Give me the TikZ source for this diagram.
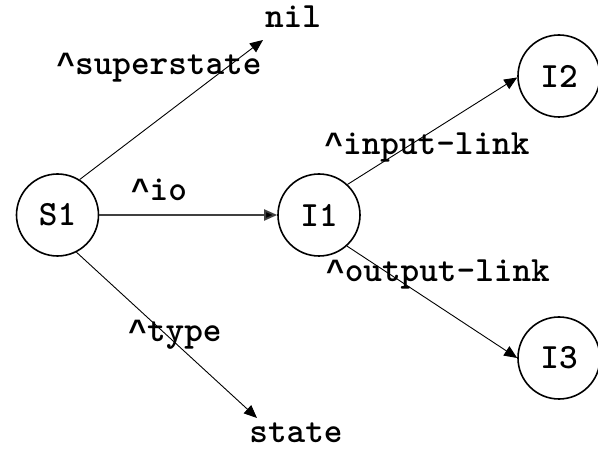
\documentclass[tikz,border=0pt]{standalone}
\usepackage{fontspec}
\newfontfamily\caretfont{Liberation Mono}
\newcommand{\crt}{{\fontsize{31}{31}\caretfont\bfseries\textasciicircum}}
\usetikzlibrary{arrows.meta}
\tikzset{
  state/.style={circle, draw=black, line width=1.6pt, minimum size=82pt, inner sep=0pt, font=\fontsize{35.5}{35.5}\selectfont\ttfamily\bfseries},
  lbl/.style={anchor=base, inner sep=0pt, font=\fontsize{35.5}{35.5}\selectfont\ttfamily\bfseries},
  conn/.style={draw=black, line width=0.9pt, -{Triangle[length=13pt,width=11pt]}},
  thick conn/.style={draw=black!75, line width=1.8pt, -{Triangle[length=13pt,width=11pt,fill=black]}}
}
\begin{document}
\begin{tikzpicture}[x=1pt,y=-1pt]
\useasboundingbox (0,0) rectangle (598,449);
\node[state] (S1) at (57.5,215) {S1};
\node[state] (I1) at (319,215) {I1};
\node[state] (I2) at (559,76) {I2};
\node[state] (I3) at (559,358) {I3};
\node[lbl] (nil) at (293,28) {nil};
\node[lbl, text depth=0pt] (stt) at (296,443) {state};
\coordinate (nilend) at (263,40);
\coordinate (statend) at (257,418);
\draw[conn] (S1.58) -- (nilend);
\draw[thick conn] (S1.east) -- (I1.west);
\draw[conn] (S1.-63) -- (statend);
\draw[conn] (I1.47) -- (I2.182);
\draw[conn] (I1.-48) -- (I3.180);
\node[lbl] (lsup) at (159,75) {\crt superstate};
\node[lbl] (lio) at (159,201) {\crt io};
\node[lbl] (ltype) at (175,342) {\crt type};
\node[lbl] (lin) at (427,155) {\crt input-link};
\node[lbl] (lout) at (438,282) {\crt output-link};
\end{tikzpicture}
\end{document}
